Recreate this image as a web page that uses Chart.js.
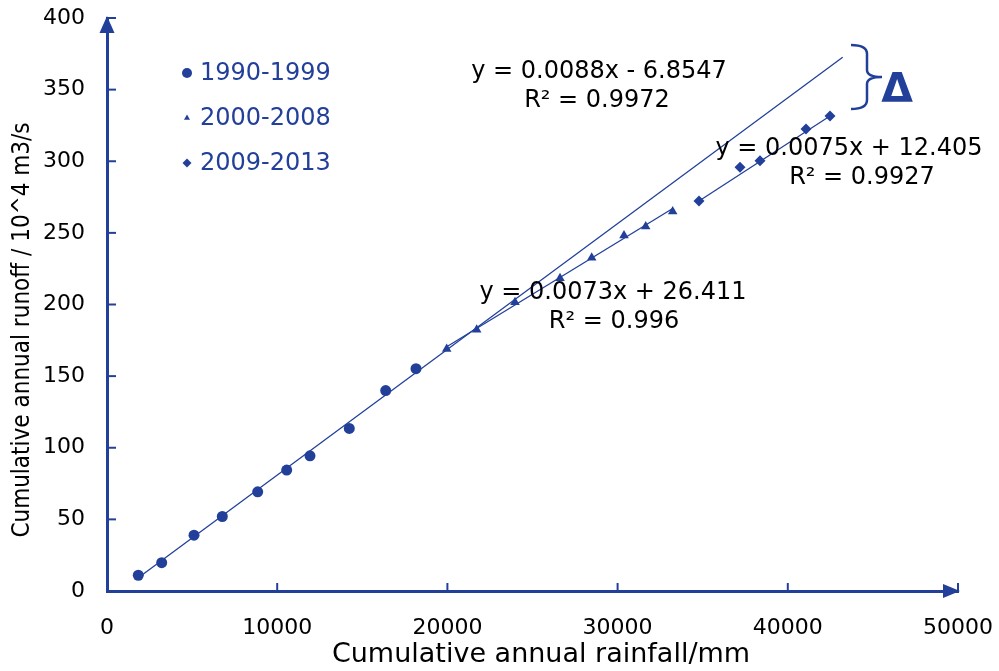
<!DOCTYPE html>
<html lang="en">
<head>
<meta charset="utf-8">
<script src="https://cdn.jsdelivr.net/npm/chart.js@4.4.1/dist/chart.umd.min.js"></script>
<style>
  body { margin: 0; background: #fff; }
  #wrap { width: 999px; height: 671px; }
</style>
</head>
<body>
<div id="wrap"><canvas id="myChart" width="999" height="671"></canvas></div>
<script>
// values
const seriesNames = ['1990-1999', '2000-2008', '2009-2013'];
const rain1 = [1839, 3214, 5112, 6775, 8854, 10558, 11927, 14236, 16375, 18155];
const runoff1 = [11.0, 19.8, 39.0, 52.0, 69.2, 84.4, 94.4, 113.5, 139.9, 155.2];
const rain2 = [19959, 21722, 23972, 26616, 28479, 30376, 31651, 33237];
const runoff2 = [169.0, 182.3, 201.6, 218.4, 232.6, 248.2, 254.5, 265.0];
const rain3 = [34783, 37192, 38367, 41069, 42479];
const runoff3 = [272.3, 295.8, 300.3, 322.5, 331.6];

// trend line ends as seen on the chart
const trendRainA = [1839, 43225], trendRunA = [9.3, 372.6];
const trendRainB = [19959, 33237], trendRunB = [170.5, 267.0];
const trendRainC = [34783, 42479], trendRunC = [272.3, 331.6];

const eqLines = [
  ['y = 0.0088x - 6.8547', 'R\u00b2 = 0.9972'],
  ['y = 0.0073x + 26.411', 'R\u00b2 = 0.996'],
  ['y = 0.0075x + 12.405', 'R\u00b2 = 0.9927']
];

const xTitle = 'Cumulative annual rainfall/mm';
const yTitle = 'Cumulative annual runoff / 10^4 m3/s';

const blue = '#22409a';
const FONT = '"DejaVu Sans", Verdana, sans-serif';
const FONT_COND = '"DejaVu Sans Condensed", "DejaVu Sans", sans-serif';

function pts(xs, ys) { return xs.map((x, i) => ({x: x, y: ys[i]})); }

const markerStyles = ['circle', 'triangle', 'rectRot'];
const legendSizes = [5, 3.5, 4.5];

const extras = {
  id: 'extras',
  afterDraw(chart) {
    const ctx = chart.ctx;
    const xs = chart.scales.x, ys = chart.scales.y;
    const a = chart.chartArea;
    ctx.save();
    ctx.strokeStyle = blue;
    ctx.fillStyle = blue;
    ctx.lineWidth = 2;
    // ticks pointing inward
    xs.ticks.forEach(t => {
      if (t.value === 0) return;
      const px = xs.getPixelForValue(t.value);
      ctx.beginPath(); ctx.moveTo(px, a.bottom); ctx.lineTo(px, a.bottom - 8); ctx.stroke();
    });
    ys.ticks.forEach(t => {
      if (t.value === 0) return;
      const py = ys.getPixelForValue(t.value);
      ctx.beginPath(); ctx.moveTo(a.left, py); ctx.lineTo(a.left + 9, py); ctx.stroke();
    });
    // arrow heads
    ctx.beginPath();
    ctx.moveTo(a.right + 2, a.bottom);
    ctx.lineTo(a.right - 15, a.bottom - 7);
    ctx.lineTo(a.right - 15, a.bottom + 7);
    ctx.closePath(); ctx.fill();
    ctx.beginPath();
    ctx.moveTo(a.left, a.top - 2);
    ctx.lineTo(a.left - 7.5, a.top + 15);
    ctx.lineTo(a.left + 7.5, a.top + 15);
    ctx.closePath(); ctx.fill();

    // brace and delta
    ctx.lineWidth = 2.5;
    ctx.beginPath();
    ctx.moveTo(851, 45);
    ctx.quadraticCurveTo(867, 45, 867, 54);
    ctx.lineTo(867, 70);
    ctx.quadraticCurveTo(867, 77, 882, 77);
    ctx.moveTo(882, 77);
    ctx.quadraticCurveTo(867, 77, 867, 84);
    ctx.lineTo(867, 100);
    ctx.quadraticCurveTo(867, 109, 851, 109);
    ctx.stroke();
    ctx.font = 'bold 41px ' + FONT;
    ctx.textAlign = 'center';
    ctx.textBaseline = 'middle';
    ctx.fillText('\u0394', 897, 91);

    // legend
    ctx.font = '24px ' + FONT;
    ctx.textAlign = 'left';
    const legY = [73, 118, 163];
    seriesNames.forEach((name, i) => {
      Chart.helpers.drawPoint(ctx, {pointStyle: markerStyles[i], radius: legendSizes[i], borderWidth: 0}, 187, legY[i]);
      ctx.fillStyle = blue;
      ctx.fillText(name, 200, legY[i] + 1);
    });

    // trend equations
    ctx.fillStyle = '#000';
    ctx.textAlign = 'center';
    const eqPos = [[599, 72, 597, 101], [613, 293, 614, 322], [849, 149, 862, 178]];
    eqLines.forEach((l, i) => {
      const p = eqPos[i];
      ctx.fillText(l[0], p[0], p[1]);
      ctx.fillText(l[1], p[2], p[3]);
    });

    // axis titles
    ctx.font = '27px ' + FONT;
    ctx.fillText(xTitle, 541, 655);
    ctx.save();
    ctx.translate(23, 330);
    ctx.rotate(-Math.PI / 2);
    ctx.font = '24px ' + FONT_COND;
    ctx.fillText(yTitle, 0, 0);
    ctx.restore();
    ctx.restore();
  }
};

const trendStyle = {showLine: true, pointRadius: 0, borderColor: blue, borderWidth: 1.3, fill: false};

function noOverflow(s) {
  s.paddingTop = 0; s.paddingBottom = 0; s.paddingLeft = 0; s.paddingRight = 0;
}

const ctx = document.getElementById('myChart').getContext('2d');
const myChart = new Chart(ctx, {
  type: 'scatter',
  data: {
    datasets: [
      Object.assign({data: pts(trendRainA, trendRunA)}, trendStyle),
      Object.assign({data: pts(trendRainB, trendRunB)}, trendStyle),
      Object.assign({data: pts(trendRainC, trendRunC)}, trendStyle),
      {label: seriesNames[0], data: pts(rain1, runoff1), pointStyle: 'circle', pointRadius: 5.5,
       backgroundColor: blue, borderColor: blue, borderWidth: 0},
      {label: seriesNames[1], data: pts(rain2, runoff2), pointStyle: 'triangle', pointRadius: 5.5,
       backgroundColor: blue, borderColor: blue, borderWidth: 0},
      {label: seriesNames[2], data: pts(rain3, runoff3), pointStyle: 'rectRot', pointRadius: 5.5,
       backgroundColor: blue, borderColor: blue, borderWidth: 0}
    ]
  },
  options: {
    responsive: false,
    animation: false,
    layout: {padding: {top: 18, right: 41, left: 0, bottom: 0}},
    plugins: {legend: {display: false}, tooltip: {enabled: false}},
    scales: {
      x: {
        type: 'linear', min: 0, max: 50000,
        ticks: {stepSize: 10000, color: '#000', font: {family: FONT, size: 22}, padding: 24,
                maxRotation: 0, callback: v => String(v)},
        grid: {display: false, drawTicks: false},
        border: {display: true, color: blue, width: 3},
        title: {display: false},
        afterFit: s => { s.height = 80; noOverflow(s); }
      },
      y: {
        type: 'linear', min: 0, max: 400,
        ticks: {stepSize: 50, color: '#000', font: {family: FONT, size: 22}, padding: 22,
                callback: v => String(v)},
        grid: {display: false, drawTicks: false},
        border: {display: true, color: blue, width: 3},
        title: {display: false},
        afterFit: s => { s.width = 107; noOverflow(s); }
      }
    }
  },
  plugins: [extras]
});
</script>
</body>
</html>
